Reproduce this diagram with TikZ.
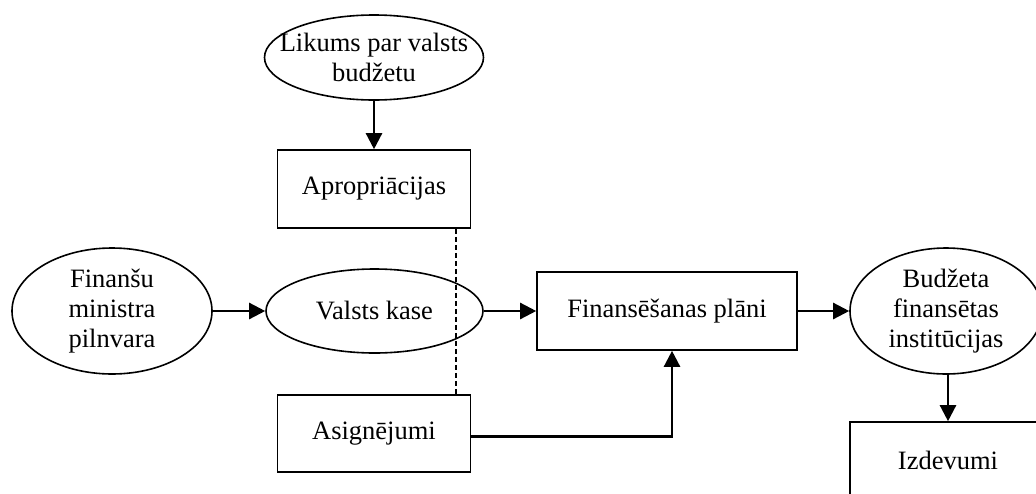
\documentclass[tikz,border=0pt]{standalone}
\usepackage{fontspec}
\setmainfont{Liberation Serif}
\usetikzlibrary{arrows.meta,calc,shapes.geometric}
\begin{document}
\begin{tikzpicture}[x=1pt,y=-1pt,
  every node/.style={font=\fontsize{26.5}{30}\selectfont},
  oval/.style={draw,ellipse,line width=1.6pt,inner sep=0pt},
  stepbox/.style={draw,rectangle,line width=1.6pt,inner sep=0pt},
  txt/.style={align=center,inner sep=0pt},
  flow/.style={line width=2.4pt,-{Triangle[length=16pt,width=16pt]}}]
\useasboundingbox (0,0) rectangle (1036,493);
\clip (0,0) rectangle (1036,493);

% top of the chain: the budget law and the appropriations
\node[oval,minimum width=219pt,minimum height=85pt] (likums) at (374,57.5) {};
\node[txt] at (likums) {Likums par valsts\\budžetu};
\node[stepbox,minimum width=193pt,minimum height=78pt] (apro) at (374,189) {Apropriācijas};

% main row
\node[oval,minimum width=200pt,minimum height=126pt] (fmin) at (112,311) {};
\node[txt] at (fmin) {Finanšu\\ministra\\pilnvara};
\node[oval,minimum width=217pt,minimum height=84pt] (kase) at (374.5,311) {Valsts kase};
\node[stepbox,minimum width=260pt,minimum height=78pt] (plan) at (667,311) {Finansēšanas plāni};
\node[oval,minimum width=192pt,minimum height=126pt] (inst) at (946,311) {};
\node[txt] at (inst) {Budžeta\\finansētas\\institūcijas};

% lower row
\node[stepbox,minimum width=193pt,minimum height=77pt] (asig) at (374,433.5) {Asignējumi};
\node[stepbox,minimum width=196pt,minimum height=77pt] (izd) at (948,460.5) {Izdevumi};

% connectors
\draw[flow] (likums.south) -- (apro.north);
\draw[flow] (fmin.east) -- (kase.west);
\draw[flow] (kase.east) -- (plan.west);
\draw[flow] (plan.east) -- (inst.west);
\draw[flow] (inst.south -| izd.north) -- (izd.north);
\coordinate (plin) at ($(plan.south)+(5,0)$);
\draw[flow] ($(asig.east)+(0,3)$) -| (plin);
\coordinate (dtop) at ($(apro.south)+(82,0)$);
\coordinate (dbot) at ($(asig.north)+(82,0)$);
\draw[line width=1.3pt,dash pattern=on 5pt off 3pt] (dtop) -- (dbot);
\end{tikzpicture}
\end{document}
